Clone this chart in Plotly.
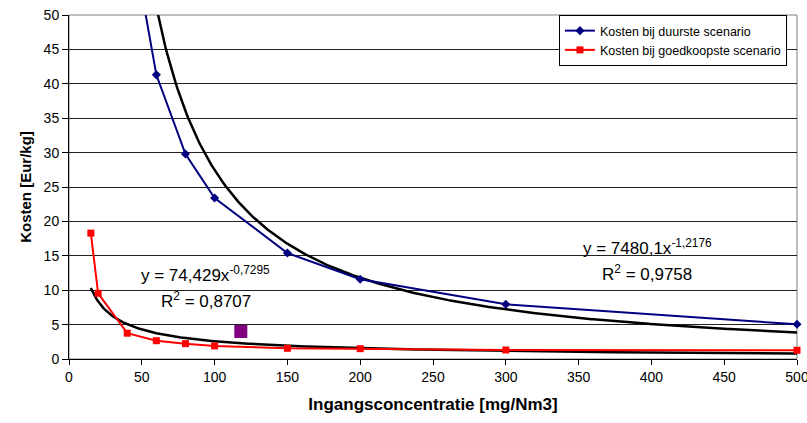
import numpy as np
import plotly.graph_objects as go

# data
x_duur = [40, 60, 80, 100, 150, 200, 300, 500]
y_duur = [65.1, 41.3, 29.8, 23.4, 15.4, 11.6, 7.95, 5.04]
x_goed = [15, 20, 40, 60, 80, 100, 150, 200, 300, 500]
y_goed = [18.3, 9.55, 3.75, 2.66, 2.23, 1.9, 1.55, 1.5, 1.31, 1.27]
extra_x = [118]
extra_y = [4.0]

# power trendlines (coefficients as shown on chart)
fit_duur = (7480.1, -1.2176)
fit_goed = (74.429, -0.7295)
x_trend = np.linspace(15, 500, 400)

x_ticks = list(range(0, 501, 50))
y_ticks = list(range(0, 51, 5))

FONT = "Liberation Sans, Arial, sans-serif"

fig = go.Figure()
fig.add_trace(go.Scatter(x=x_trend, y=fit_duur[0] * x_trend ** fit_duur[1], mode="lines",
                         line=dict(color="black", width=2.5), showlegend=False, hoverinfo="skip"))
fig.add_trace(go.Scatter(x=x_trend, y=fit_goed[0] * x_trend ** fit_goed[1], mode="lines",
                         line=dict(color="black", width=2.5), showlegend=False, hoverinfo="skip"))
fig.add_trace(go.Scatter(x=x_duur, y=y_duur, mode="lines+markers", name="Kosten bij duurste scenario",
                         line=dict(color="#000080", width=2), cliponaxis=False,
                         marker=dict(symbol="diamond", size=7, color="#000080")))
fig.add_trace(go.Scatter(x=x_goed, y=y_goed, mode="lines+markers", name="Kosten bij goedkoopste scenario",
                         line=dict(color="#FF0000", width=2), cliponaxis=False,
                         marker=dict(symbol="square", size=7, color="#FF0000")))
fig.add_trace(go.Scatter(x=extra_x, y=extra_y, mode="markers", showlegend=False,
                         marker=dict(symbol="square", size=13, color="#800080")))

ann_font = dict(family=FONT, size=17, color="black")
fig.add_annotation(x=94, y=12.4, text="y = 74,429x<sup>-0,7295</sup>", showarrow=False, font=ann_font)
fig.add_annotation(x=94, y=8.6, text="R<sup>2</sup> = 0,8707", showarrow=False, font=ann_font)
fig.add_annotation(x=397, y=16.3, text="y = 7480,1x<sup>-1,2176</sup>", showarrow=False, font=ann_font)
fig.add_annotation(x=397, y=12.5, text="R<sup>2</sup> = 0,9758", showarrow=False, font=ann_font)

fig.add_shape(type="rect", xref="paper", yref="paper", x0=0, y0=0, x1=1, y1=1,
              line=dict(color="#808080", width=1), layer="below")

fig.update_layout(
    width=807, height=423,
    margin=dict(l=69, r=10, t=15, b=64),
    paper_bgcolor="white", plot_bgcolor="white",
    font=dict(family=FONT, color="black"),
    legend=dict(x=0.673, y=1.0, xanchor="left", yanchor="top",
                bgcolor="white", bordercolor="black", borderwidth=1,
                font=dict(family=FONT, size=12.5, color="black"),
                tracegroupgap=0, itemwidth=30),
    xaxis=dict(range=[0, 500], tickvals=x_ticks, showgrid=False, zeroline=False, automargin=False,
               showline=True, linecolor="black", linewidth=1, ticks="outside", ticklen=5,
               tickcolor="black", tickfont=dict(size=14), ticklabeloverflow="allow",
               title=dict(text="<b>Ingangsconcentratie [mg/Nm3]</b>", font=dict(size=17), standoff=14)),
    yaxis=dict(range=[0, 50], tickvals=y_ticks, showgrid=True, gridcolor="#222222", gridwidth=1,
               zeroline=False, showline=True, linecolor="black", linewidth=1, ticks="outside",
               automargin=False, ticklen=6, tickcolor="black", tickfont=dict(size=14),
               ticklabeloverflow="allow",
               title=dict(text="<b>Kosten [Eur/kg]</b>", font=dict(size=15), standoff=8)),
)

fig.write_html("out.html", config={"displayModeBar": False},
               post_script="document.body.style.margin='0';document.body.style.overflow='hidden';")
